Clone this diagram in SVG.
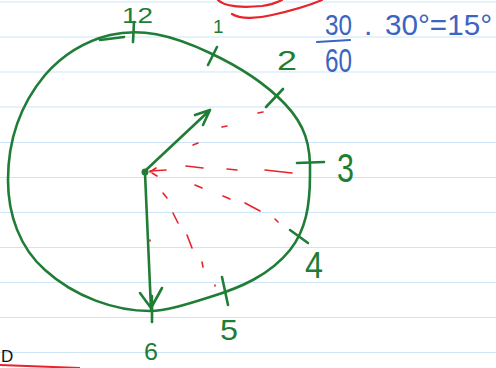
<svg xmlns="http://www.w3.org/2000/svg" width="496" height="368" viewBox="0 0 496 368">
<style>
.rule{stroke:#cde5f6;stroke-width:1.2}
.g{fill:none;stroke:#1f7d36;stroke-width:2.6;stroke-linecap:round;stroke-linejoin:round}
.r{fill:none;stroke:#e8232a;stroke-width:1.6;stroke-linecap:round}
.rt{fill:none;stroke:#e8232a;stroke-width:2.2;stroke-linecap:round}
.gt{font-family:"Liberation Sans",Arial,sans-serif;fill:#1f7d36}
.bt{font-family:"Liberation Sans",Arial,sans-serif;fill:#3a65c0}
</style>
<rect width="496" height="368" fill="#ffffff"/>
<g id="paper">
<line class="rule" x1="0" y1="2" x2="496" y2="2"/>
<line class="rule" x1="0" y1="37" x2="496" y2="37"/>
<line class="rule" x1="0" y1="72" x2="496" y2="72"/>
<line class="rule" x1="0" y1="107" x2="496" y2="107"/>
<line class="rule" x1="0" y1="142.5" x2="496" y2="142.5"/>
<line class="rule" x1="0" y1="177.5" x2="496" y2="177.5"/>
<line class="rule" x1="0" y1="212.5" x2="496" y2="212.5"/>
<line class="rule" x1="0" y1="247.5" x2="496" y2="247.5"/>
<line class="rule" x1="0" y1="282.5" x2="496" y2="282.5"/>
<line class="rule" x1="0" y1="317.5" x2="496" y2="317.5"/>
<line class="rule" x1="0" y1="352.5" x2="496" y2="352.5"/>
</g>
<g id="top-red">
<path class="rt" d="M218,0 C224,6 240,8 262,6 C270,5 276,3 282,0"/>
<path class="rt" d="M232,14 C240,19 256,19 272,15 C290,11 308,6 322,0"/>
</g>
<g id="clock">
<path class="g" d="M110,35 C140,28 170,34 210,53 C240,67 265,83 285,104 C305,125 311,145 310,175 C310,205 306,230 290,250 C270,275 240,288 210,297 C185,305 165,311 150,311 C115,311 75,297 45,270 C20,248 8,215 8,180 C8,140 20,105 45,75 C65,52 90,40 110,35"/>
<path class="g" d="M100,40 L124,37"/>
<path class="g" d="M134,22 L133,42"/>
<path class="g" d="M208,65 L217,47"/>
<path class="g" d="M266,107 L283,89"/>
<path class="g" d="M297,163 L324,162"/>
<path class="g" d="M290,230 L308,243"/>
<path class="g" d="M222,277 L228,305"/>
<path class="g" d="M152,300 L152,322"/>
</g>
<g id="red-dashes">
<path class="r" d="M150,171 L166,170 M186,166 L203,168 M227,169 L237,170 M265,170 L292,173"/>
<path class="r" d="M150,172 L156,168 M152,173 L157,176"/>
<path class="r" d="M193,145 L198,143 M222,127 L227,126 M258,113 L263,112"/>
<path class="r" d="M195,185 L202,188 M223,196 L230,199 M245,203 L260,211 M275,219 L278,222"/>
<path class="r" d="M163,193 L167,198 M173,213 L178,223 M187,235 L192,248 M202,262 L203,267 M215,285 L215,286"/>
<path class="r" d="M150,240 L150,241"/>
</g>
<g id="hands">
<circle cx="145" cy="172" r="3.5" fill="#1f7d36"/>
<path class="g" d="M146,170 L210,110 M195,115 L210,110 L203,125"/>
<path class="g" d="M145,173 L151,309 M140,293 L151,308 L162,288 M152,296 L151,309"/>
</g>
<g id="labels">
<text class="gt" x="122" y="23" font-size="22" textLength="31" lengthAdjust="spacingAndGlyphs">12</text>
<text class="gt" x="213" y="33" font-size="19">1</text>
<text class="gt" x="277" y="70" font-size="28" textLength="20" lengthAdjust="spacingAndGlyphs">2</text>
<text class="gt" x="337" y="182" font-size="40" textLength="17" lengthAdjust="spacingAndGlyphs">3</text>
<text class="gt" x="305" y="278" font-size="36" textLength="18" lengthAdjust="spacingAndGlyphs">4</text>
<text class="gt" x="220" y="340" font-size="30" textLength="18" lengthAdjust="spacingAndGlyphs">5</text>
<text class="gt" x="144" y="360" font-size="24" textLength="14" lengthAdjust="spacingAndGlyphs">6</text>
</g>
<g id="formula">
<text class="bt" x="325" y="35" font-size="30" textLength="27" lengthAdjust="spacingAndGlyphs">30</text>
<path d="M317,42 L350,40" stroke="#3a65c0" stroke-width="2.2" stroke-linecap="round"/>
<text class="bt" x="325" y="72" font-size="34" textLength="27" lengthAdjust="spacingAndGlyphs">60</text>
<text class="bt" x="364" y="35" font-size="30">.</text>
<text class="bt" x="385" y="35" font-size="30" textLength="107" lengthAdjust="spacingAndGlyphs">30°=15°</text>
</g>
<g id="corner">
<text x="1" y="362" font-family="Liberation Sans,Arial,sans-serif" font-size="17" fill="#111">D</text>
<path d="M0,365 C30,366 60,367 80,368" stroke="#e8232a" stroke-width="2" fill="none"/>
</g>
</svg>
